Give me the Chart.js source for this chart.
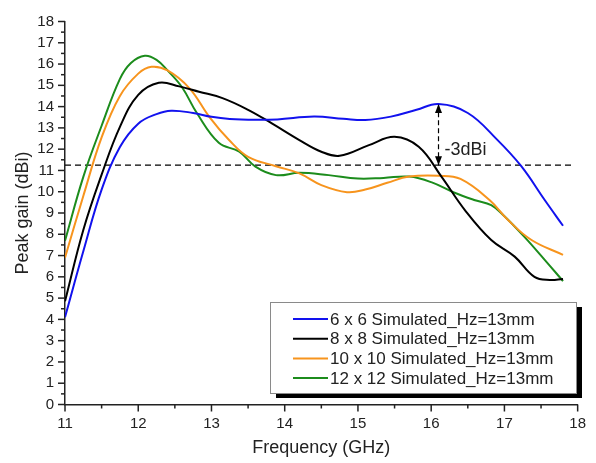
<!DOCTYPE html>
<html>
<head>
<meta charset="utf-8">
<script src="https://cdn.jsdelivr.net/npm/chart.js@4/dist/chart.umd.min.js"></script>
<style>
    html, body { margin: 0; padding: 0; background: #fff; }
    #wrap { width: 596px; height: 463px; }
</style>
</head>
<body>
<div id="wrap"><canvas id="gainChart" width="596" height="463"></canvas></div>
<script>
// ---------------- Data ----------------
const seriesLabels = [
    "6 x 6 Simulated_Hz=13mm",
    "8 x 8 Simulated_Hz=13mm",
    "10 x 10 Simulated_Hz=13mm",
    "12 x 12 Simulated_Hz=13mm"
];
const seriesColors = ["#1212ee", "#000000", "#f7941d", "#1c8c1c"];

const freq6 = [11, 11.25, 11.5, 11.75, 12.0, 12.25, 12.45, 12.75, 13.0, 13.25, 13.6, 13.9, 14.4, 14.8, 15.1, 15.45, 15.8, 16.1, 16.5, 16.9, 17.23, 17.55, 17.8];
const gain6 = [4.1, 7.2, 10.1, 12.1, 13.2, 13.65, 13.81, 13.7, 13.52, 13.42, 13.38, 13.4, 13.53, 13.43, 13.37, 13.53, 13.85, 14.12, 13.7, 12.45, 11.2, 9.61, 8.4];

const freq8 = [11, 11.25, 11.5, 11.75, 12.0, 12.28, 12.56, 12.83, 13.15, 13.5, 13.83, 14.2, 14.5, 14.75, 15.15, 15.5, 15.83, 16.14, 16.46, 16.82, 17.14, 17.41, 17.62, 17.8];
const gain8 = [4.85, 8.2, 10.8, 13.05, 14.55, 15.12, 14.95, 14.7, 14.4, 13.85, 13.2, 12.43, 11.88, 11.69, 12.19, 12.58, 12.11, 10.71, 9.14, 7.73, 6.95, 6.0, 5.85, 5.9];

const freq10 = [11, 11.25, 11.5, 11.75, 12.0, 12.18, 12.4, 12.7, 12.97, 13.24, 13.5, 13.88, 14.2, 14.5, 14.85, 15.1, 15.4, 15.7, 16.1, 16.4, 16.8, 17.05, 17.37, 17.8];
const gain10 = [6.9, 9.8, 12.55, 14.5, 15.55, 15.87, 15.7, 14.86, 13.52, 12.43, 11.64, 11.2, 10.86, 10.31, 9.98, 10.1, 10.42, 10.71, 10.75, 10.6, 9.6, 8.67, 7.73, 7.03];

const freq12 = [11, 11.25, 11.5, 11.75, 11.9, 12.09, 12.25, 12.4, 12.6, 12.8, 13.1, 13.38, 13.6, 13.88, 14.2, 14.6, 15.0, 15.35, 15.7, 16.0, 16.32, 16.6, 16.82, 17.0, 17.27, 17.55, 17.8];
const gain12 = [7.7, 10.7, 13.1, 15.3, 16.05, 16.39, 16.2, 15.7, 14.9, 13.7, 12.3, 11.88, 11.18, 10.78, 10.89, 10.78, 10.62, 10.65, 10.71, 10.45, 9.95, 9.6, 9.37, 8.85, 7.89, 6.8, 5.8];

// -3dB reference
const refLevel = 11.25;
const refStart = 11, refEnd = 17.93;
const arrowFreq = 16.1;
const arrowTop = 14.12;
const arrowLabel = "-3dBi";

const xTicks = [11, 12, 13, 14, 15, 16, 17, 18];
const yTicks = [0, 1, 2, 3, 4, 5, 6, 7, 8, 9, 10, 11, 12, 13, 14, 15, 16, 17, 18];

const FONT = "'Liberation Sans', Arial, sans-serif";

function pairs(xs, ys) { return xs.map((x, i) => ({ x, y: ys[i] })); }

const curves = [[freq6, gain6], [freq8, gain8], [freq10, gain10], [freq12, gain12]];
const datasets = curves.map(([f, g], i) => ({
    label: seriesLabels[i],
    data: pairs(f, g),
    borderColor: seriesColors[i],
    borderWidth: 2,
    pointRadius: 0,
    tension: 0.4,
    fill: false
}));

// dashed -3dB line and dashed arrow shaft
datasets.push({
    label: "ref",
    data: [{ x: refStart, y: refLevel }, { x: refEnd, y: refLevel }],
    borderColor: "#000", borderWidth: 1.2, borderDash: [6, 4], pointRadius: 0
});
datasets.push({
    label: "arrow",
    data: [{ x: arrowFreq, y: refLevel }, { x: arrowFreq, y: arrowTop }],
    borderColor: "#000", borderWidth: 1.2, borderDash: [5, 3], pointRadius: 0
});

// ---------------- Extras: ticks, arrow heads, label, legend ----------------
const extrasPlugin = {
    id: "extras",
    afterDraw(chart) {
        const ctx = chart.ctx;
        const xs = chart.scales.x, ys = chart.scales.y;
        const area = chart.chartArea;
        ctx.save();
        ctx.strokeStyle = "#222";
        ctx.lineWidth = 1.5;
        // x ticks (major + minor)
        for (let v = 11; v <= 18.001; v += 0.5) {
            const px = xs.getPixelForValue(v);
            const len = v % 1 === 0 ? 7 : 4;
            ctx.beginPath(); ctx.moveTo(px, area.bottom); ctx.lineTo(px, area.bottom + len); ctx.stroke();
        }
        for (let v = 0; v <= 18.001; v += 0.5) {
            const py = ys.getPixelForValue(v);
            const len = v % 1 === 0 ? 7 : 4;
            ctx.beginPath(); ctx.moveTo(area.left, py); ctx.lineTo(area.left - len, py); ctx.stroke();
        }

        // arrow heads
        const ax = xs.getPixelForValue(arrowFreq);
        const aTop = ys.getPixelForValue(arrowTop);
        const aBot = ys.getPixelForValue(refLevel);
        ctx.fillStyle = "#000";
        ctx.beginPath(); ctx.moveTo(ax, aTop); ctx.lineTo(ax - 3.5, aTop + 9); ctx.lineTo(ax + 3.5, aTop + 9); ctx.closePath(); ctx.fill();
        ctx.beginPath(); ctx.moveTo(ax, aBot); ctx.lineTo(ax - 3.5, aBot - 9); ctx.lineTo(ax + 3.5, aBot - 9); ctx.closePath(); ctx.fill();

        ctx.font = "18px " + FONT;
        ctx.fillStyle = "#222";
        ctx.textBaseline = "middle";
        ctx.textAlign = "left";
        ctx.fillText(arrowLabel, ax + 6, ys.getPixelForValue(refLevel + 0.72));

        // legend box with shadow
        const bx = 270, by = 302, bw = 306, bh = 91;
        ctx.fillStyle = "#000";
        ctx.fillRect(bx + 6, by + 5, bw, bh);
        ctx.fillStyle = "#fff";
        ctx.fillRect(bx, by, bw, bh);
        ctx.strokeStyle = "#8a8a8a";
        ctx.lineWidth = 1;
        ctx.strokeRect(bx + 0.5, by + 0.5, bw, bh);

        ctx.font = "17px " + FONT;
        chart.data.datasets.slice(0, 4).forEach((ds, i) => {
            const ry = 319 + i * 19.7;
            ctx.strokeStyle = ds.borderColor;
            ctx.lineWidth = 2;
            ctx.beginPath(); ctx.moveTo(293, ry); ctx.lineTo(328, ry); ctx.stroke();
            ctx.fillStyle = "#222";
            ctx.fillText(ds.label, 330, ry + 1);
        });
        ctx.restore();
    }
};

new Chart(document.getElementById("gainChart").getContext("2d"), {
    type: "line",
    data: { datasets },
    options: {
        responsive: false,
        animation: false,
        layout: { padding: { top: 21.5, right: 16, left: 0, bottom: 0 } },
        plugins: { legend: { display: false }, tooltip: { enabled: false } },
        scales: {
            x: {
                type: "linear", min: 11, max: 18,
                afterBuildTicks: s => { s.ticks = xTicks.map(v => ({ value: v })); },
                afterFit: s => { s.height = 58.5; },
                grid: { display: false, drawTicks: false },
                border: { display: true, color: "#222", width: 1.5 },
                ticks: { color: "#222", padding: 10, font: { size: 15, family: FONT } },
                title: { display: true, text: "Frequency (GHz)", color: "#222", padding: { top: 0, bottom: 4 }, font: { size: 18, family: FONT } }
            },
            y: {
                type: "linear", min: 0, max: 18,
                afterBuildTicks: s => { s.ticks = yTicks.map(v => ({ value: v })); },
                afterFit: s => { s.width = 65; },
                grid: { display: false, drawTicks: false },
                border: { display: true, color: "#222", width: 1.5 },
                ticks: { color: "#222", padding: 11, font: { size: 15, family: FONT } },
                title: { display: true, text: "Peak gain (dBi)", color: "#222", padding: { top: 12, bottom: 0 }, font: { size: 18, family: FONT } }
            }
        }
    },
    plugins: [extrasPlugin]
});
</script>
</body>
</html>
